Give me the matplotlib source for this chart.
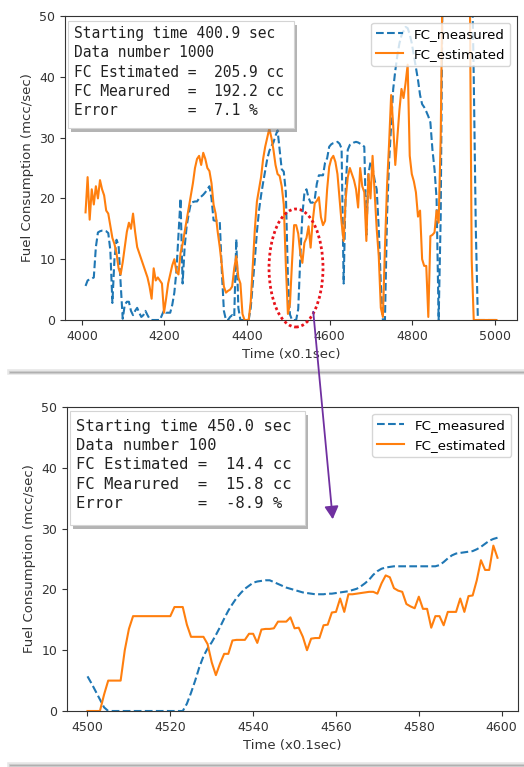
import numpy as np
import matplotlib
matplotlib.use('Agg')
import matplotlib.pyplot as plt
import matplotlib.patheffects as pe
from matplotlib.patches import Rectangle, Ellipse, FancyArrowPatch
from matplotlib.lines import Line2D

# --- top panel: 1000-sample window starting at 4009 (read every 5th sample) ---
TOP_T0 = 4009
TOP_STEP = 5
fc_measured_top = [
    5.6, 6.5, 6.7, 6.8, 7.0, 12.0, 14.4, 14.6, 14.7, 14.7,
    14.6, 14.3, 11.5, 2.8, 10.0, 13.2, 12.3, 6.0, 0.2, 2.5,
    3.0, 3.0, 1.5, 0.8, 1.5, 2.0, 1.2, 0.5, 0.8, 1.5,
    0.8, 0.2, 0.0, 0.0, 0.0, 0.0, 0.0, 0.8, 1.6, 1.2,
    1.2, 1.2, 2.5, 4.5, 8.0, 14.0, 20.0, 6.0, 12.0, 15.5,
    17.5, 19.2, 19.4, 19.5, 19.5, 20.0, 20.3, 20.6, 21.0, 21.5,
    22.0, 20.0, 16.4, 16.3, 16.4, 16.2, 8.0, 1.5, 0.0, 0.0,
    0.5, 0.8, 0.5, 13.3, 2.0, 0.0, 0.0, 0.0, 0.0, 0.0,
    2.0, 6.0, 10.0, 14.5, 18.0, 20.5, 22.6, 24.5, 26.5, 27.8,
    28.6, 29.2, 30.3, 31.2, 28.0, 24.8, 24.4, 21.0, 7.0, 0.9,
    0.0, 0.0, 0.0, 1.8, 10.3, 17.3, 20.9, 21.5, 20.1, 19.3,
    19.3, 19.9, 22.4, 23.8, 23.8, 23.8, 25.9, 26.6, 28.5, 28.9,
    29.1, 29.2, 29.3, 29.0, 28.2, 6.0, 22.0, 28.0, 28.8, 29.0,
    29.2, 29.3, 29.2, 29.0, 28.8, 28.5, 14.0, 24.0, 26.0, 25.0,
    23.0, 21.5, 15.0, 6.0, 0.0, 0.0, 17.0, 26.0, 32.0, 38.0,
    41.0, 43.5, 45.5, 46.8, 47.5, 48.2, 48.0, 47.0, 45.5, 43.5,
    41.5, 39.5, 37.0, 35.5, 35.0, 34.3, 33.5, 32.5, 28.0, 24.8,
    20.0, 0.0, 17.0, 60, 60, 60, 60, 60, 60, 60,
    60, 60, 60, 60, 60, 60, 60, 60, 40, 15,
    0, 0, 0, 0, 0, 0, 0, 0, 0, 0,
]
fc_estimated_top = [
    17.7, 23.5, 16.5, 21.5, 19.0, 22.0, 20.0, 23.0, 21.5, 20.5,
    18.0, 17.5, 15.5, 13.5, 12.5, 11.0, 8.5, 7.5, 9.5, 12.0,
    14.5, 16.0, 15.0, 17.5, 14.5, 12.0, 11.0, 10.0, 9.0, 8.0,
    7.0, 5.5, 3.5, 8.5, 6.5, 7.0, 6.5, 6.0, 1.2, 3.5,
    6.0, 7.5, 9.0, 10.0, 8.0, 7.5, 11.0, 12.5, 14.5, 16.5,
    18.5, 20.5, 22.5, 25.0, 26.5, 27.0, 25.5, 27.5, 26.5, 25.0,
    24.5, 22.5, 19.0, 17.5, 14.5, 12.0, 9.0, 5.5, 4.5, 4.8,
    5.0, 5.5, 8.5, 10.5, 7.0, 6.0, 1.0, 0.0, 0.0, 0.0,
    3.0, 9.0, 15.0, 19.5, 21.5, 23.5, 26.5, 28.5, 30.0, 31.5,
    30.0, 28.0, 25.5, 24.0, 23.7, 22.0, 19.0, 9.0, 1.0, 2.7,
    9.5, 15.6, 15.6, 14.2, 11.0, 9.4, 12.7, 13.5, 15.4, 11.9,
    16.2, 19.2, 19.6, 20.2, 16.9, 15.6, 16.3, 21.5, 25.2, 26.5,
    27.0, 26.0, 24.0, 20.0, 16.0, 13.0, 20.0, 23.5, 25.0, 24.0,
    23.0, 21.5, 18.5, 25.0, 22.0, 21.0, 13.0, 24.0, 20.0, 27.0,
    21.0, 15.0, 10.5, 2.0, 0.5, 12.0, 22.0, 29.0, 37.0, 32.0,
    25.5, 30.0, 34.5, 38.0, 36.5, 39.0, 42.0, 27.0, 24.0, 22.8,
    21.0, 17.0, 18.0, 10.0, 8.9, 8.9, 0.5, 13.8, 14.0, 14.4,
    18.0, 16.0, 30.0, 60, 60, 60, 60, 60, 60, 60,
    60, 60, 60, 60, 60, 60, 60, 10, 0, 0,
    0, 0, 0, 0, 0, 0, 0, 0, 0, 0,
]

# --- bottom panel: 100-sample zoom starting at 4500 ---
BOT_T0 = 4500
fc_measured_bot = [
    5.7, 4.5, 3.2, 1.9, 0.6, 0.0, 0.0, 0.0, 0.0, 0.0,
    0.0, 0.0, 0.0, 0.0, 0.0, 0.0, 0.0, 0.0, 0.0, 0.0,
    0.0, 0.0, 0.0, 0.0, 1.2, 3.0, 5.0, 7.2, 9.0, 10.3,
    11.3, 12.5, 13.8, 15.2, 16.5, 17.6, 18.6, 19.4, 20.1, 20.6,
    21.1, 21.3, 21.4, 21.5, 21.5, 21.2, 20.9, 20.6, 20.3, 20.1,
    19.9, 19.7, 19.5, 19.4, 19.3, 19.2, 19.2, 19.2, 19.3, 19.3,
    19.4, 19.5, 19.6, 19.7, 19.9, 20.1, 20.5, 21.0, 21.6, 22.4,
    23.0, 23.4, 23.6, 23.7, 23.8, 23.8, 23.8, 23.8, 23.8, 23.8,
    23.8, 23.8, 23.8, 23.8, 23.8, 24.0, 24.5, 25.1, 25.6, 25.9,
    26.0, 26.1, 26.2, 26.3, 26.6, 27.0, 27.5, 28.0, 28.3, 28.5,
]
fc_estimated_bot = [
    0.0, 0.0, 0.0, 0.0, 2.7, 5.0, 5.0, 5.0, 5.0, 10.0,
    13.5, 15.6, 15.6, 15.6, 15.6, 15.6, 15.6, 15.6, 15.6, 15.6,
    15.6, 17.1, 17.1, 17.1, 14.2, 12.2, 12.2, 12.2, 12.2, 11.0,
    8.0, 5.9, 7.8, 9.4, 9.4, 11.6, 11.7, 11.7, 11.7, 12.7,
    12.7, 11.2, 13.4, 13.5, 13.5, 13.6, 14.7, 14.7, 14.7, 15.4,
    13.6, 13.7, 12.2, 10.0, 11.9, 12.0, 12.0, 14.1, 14.2, 16.2,
    16.3, 18.5, 16.3, 19.2, 19.2, 19.3, 19.4, 19.5, 19.6, 19.6,
    19.3, 21.0, 22.3, 22.0, 20.2, 19.8, 19.6, 17.6, 17.2, 16.9,
    18.8, 16.8, 16.8, 13.7, 15.6, 15.6, 14.1, 16.3, 16.3, 16.3,
    18.5, 16.3, 18.9, 19.0, 21.5, 24.8, 23.2, 23.2, 27.2, 25.2,
]

top_info = [
    "Starting time 400.9 sec",
    "Data number 1000",
    "FC Estimated =  205.9 cc",
    "FC Mearured  =  192.2 cc",
    "Error        =  7.1 %",
]
bot_info = [
    "Starting time 450.0 sec",
    "Data number 100",
    "FC Estimated =  14.4 cc",
    "FC Mearured  =  15.8 cc",
    "Error        =  -8.9 %",
]
top_xticks = [4000, 4200, 4400, 4600, 4800, 5000]
bot_xticks = [4500, 4520, 4540, 4560, 4580, 4600]

W, H = 524, 767
fig = plt.figure(figsize=(W / 100, H / 100), dpi=100)
fig.patch.set_facecolor('white')


def px_axes(x0, y0, x1, y1):
    """pixel box (top-left origin) -> figure fraction rect"""
    return [x0 / W, 1 - y1 / H, (x1 - x0) / W, (y1 - y0) / H]


def draw_panel(ax, t, meas, est, info, xticks, info_fs, box, text_xy):
    ax.plot(t, meas, '--', color='#1f77b4', lw=1.5, label='FC_measured')
    ax.plot(t, est, '-', color='#ff7f0e', lw=1.5, label='FC_estimated')
    ax.set_ylim(0, 50)
    ax.set_xticks(xticks)
    ax.set_yticks([0, 10, 20, 30, 40, 50])
    ax.tick_params(labelsize=9, colors='#333333')
    ax.set_xlabel('Time (x0.1sec)', fontsize=9.5, color='#333333')
    ax.set_ylabel('Fuel Consumption (mcc/sec)', fontsize=9.5, color='#333333')
    for s in ax.spines.values():
        s.set_color('#333333')
    ax.legend(loc='upper right', fontsize=9.6)

    # info box with drop shadow
    bx0, by0, bx1, by1 = box
    rect = Rectangle((bx0, by0), bx1 - bx0, by1 - by0, transform=ax.transAxes,
                     facecolor='white', edgecolor='#d4d4d4', lw=0.8, zorder=5,
                     path_effects=[pe.SimplePatchShadow(offset=(2.5, -3),
                                                        shadow_rgbFace='#777777',
                                                        alpha=0.55),
                                   pe.Normal()])
    ax.add_patch(rect)
    ax.text(text_xy[0], text_xy[1], '\n'.join(info), transform=ax.transAxes,
            family='DejaVu Sans Mono', fontsize=info_fs, va='top', ha='left',
            linespacing=1.37, color='#222222', zorder=6)


ax1 = fig.add_axes(px_axes(65, 16, 517, 320))
t_top = TOP_T0 + TOP_STEP * np.arange(len(fc_measured_top))
draw_panel(ax1, t_top, fc_measured_top, fc_estimated_top, top_info, top_xticks,
           10.5, (0.0066, 0.6316, 0.5066, 0.9836), (0.020, 0.968))

ax2 = fig.add_axes(px_axes(67, 407, 518, 711))
t_bot = BOT_T0 + np.arange(len(fc_measured_bot))
draw_panel(ax2, t_bot, fc_measured_bot, fc_estimated_bot, bot_info, bot_xticks,
           11.2, (0.0067, 0.6118, 0.5277, 0.9868), (0.020, 0.962))

# screenshot edge shadows
for yy in (372, 765):
    for lw, col in ((4.0, '#e6e6e6'), (2.0, '#cccccc'), (0.8, '#b0b0b0')):
        fig.add_artist(Line2D([10 / W, 1], [1 - yy / H, 1 - yy / H],
                              transform=fig.transFigure, color=col, lw=lw, zorder=1))

# red dotted ellipse around the zoomed section
ell = Ellipse((296 / W, 1 - 268 / H), 54 / W, 118 / H, transform=fig.transFigure,
              fill=False, edgecolor='#e8131b', lw=2.0, linestyle=(0, (1, 1)),
              zorder=20)
fig.add_artist(ell)

# purple arrow to the zoomed panel
arr = FancyArrowPatch((313 / W, 1 - 309 / H), (333 / W, 1 - 522 / H),
                      transform=fig.transFigure,
                      arrowstyle='-|>,head_length=0.55,head_width=0.3',
                      mutation_scale=14, color='#7030a0', lw=1.3, zorder=20)
fig.add_artist(arr)

fig.savefig('out.png', dpi=100, facecolor='white')
